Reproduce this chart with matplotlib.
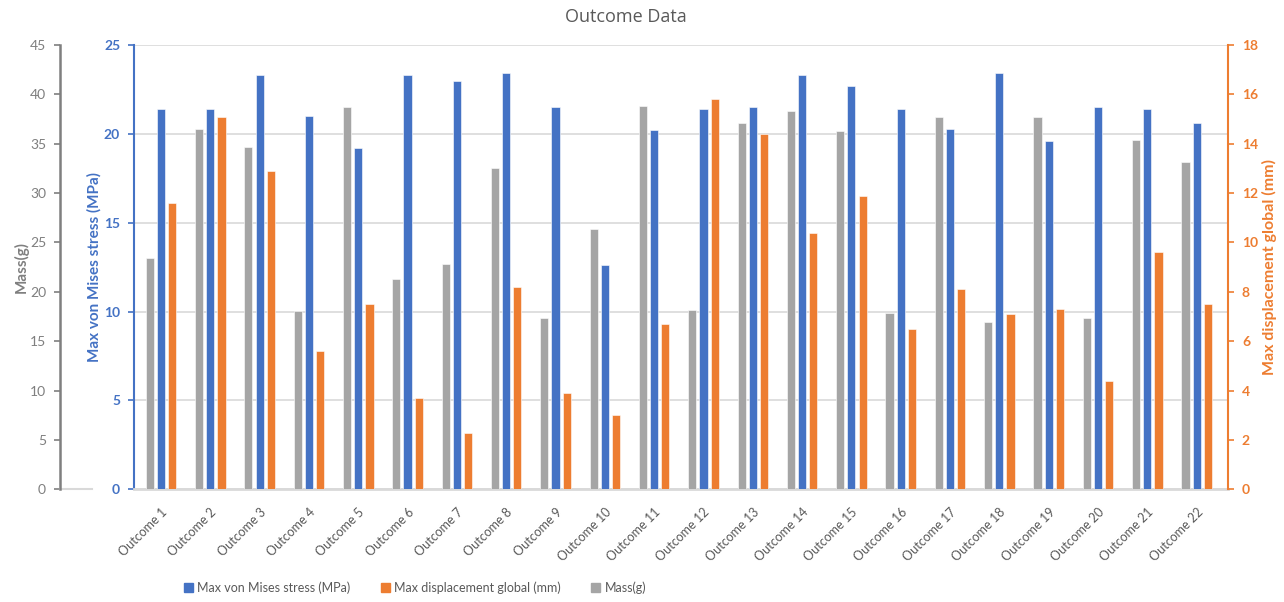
import numpy as np
import matplotlib
matplotlib.use("Agg")
import matplotlib.pyplot as plt
from matplotlib.patches import Patch

# ---- data ----
categories = [f"Outcome {i}" for i in range(1, 23)]
stress_mpa = [21.4, 21.4, 23.3, 21.0, 19.2, 23.3, 23.0, 23.4, 21.5, 12.6, 20.2,
              21.4, 21.5, 23.3, 22.7, 21.4, 20.3, 23.4, 19.6, 21.5, 21.4, 20.6]
displacement_mm = [11.6, 15.1, 12.9, 5.6, 7.5, 3.7, 2.3, 8.2, 3.9, 3.0, 6.7,
                   15.8, 14.4, 10.4, 11.9, 6.5, 8.1, 7.1, 7.3, 4.4, 9.6, 7.5]
mass_g = [23.4, 36.5, 34.7, 18.1, 38.7, 21.3, 22.8, 32.5, 17.4, 26.4, 38.8,
          18.2, 37.1, 38.3, 36.3, 17.9, 37.7, 16.9, 37.7, 17.3, 35.4, 33.2]

stress_ticks = [0, 5, 10, 15, 20, 25]
mass_ticks = list(range(0, 50, 5))
disp_ticks = list(range(0, 20, 2))

BLUE = "#4472C4"
ORANGE = "#ED7D31"
GRAY = "#A5A5A5"
TEXT = "#595959"
AXGRAY = "#7F7F7F"
GRID = "#D9D9D9"

plt.rcParams["font.family"] = ["Lato", "DejaVu Sans"]

W, H = 1284, 602
fig = plt.figure(figsize=(W / 100, H / 100), dpi=100)
left, right, top, bottom = 134, 1228, 45, 489.3
ax = fig.add_axes([left / W, (H - bottom) / H, (right - left) / W, (bottom - top) / H])
ax_mass = ax.twinx()
ax_disp = ax.twinx()

x = np.arange(len(categories))
off, bw = 0.227, 0.165

ax_mass.bar(x - off, mass_g, bw, color=GRAY, edgecolor="white", linewidth=0.4, zorder=3)
ax.bar(x, stress_mpa, bw, color=BLUE, edgecolor="white", linewidth=0.4, zorder=3)
ax_disp.bar(x + off, displacement_mm, bw, color=ORANGE, edgecolor="white", linewidth=0.4, zorder=3)

ax.set_xlim(-0.547, 21.636)
ax.set_ylim(0, 25)
ax_mass.set_ylim(0, 45)
ax_disp.set_ylim(0, 18)

# gridlines on the stress axis
ax.set_yticks(stress_ticks)
ax.yaxis.grid(True, color=GRID, linewidth=1.2)
ax.set_axisbelow(True)

for a in (ax, ax_mass, ax_disp):
    for s in a.spines.values():
        s.set_visible(False)

# stress axis (inner left)
ax.spines["left"].set_visible(True)
ax.spines["left"].set_color(BLUE)
ax.spines["left"].set_linewidth(1.5)
ax.tick_params(axis="y", colors=BLUE, length=4, width=1.2, labelsize=10, pad=6)
for t in ax.get_yticklabels():
    t.set_fontweight("bold")
ax.set_ylabel("Max von Mises stress (MPa)", color=BLUE, fontsize=11,
              fontweight="bold", labelpad=2)

# bottom category axis
ax.spines["bottom"].set_visible(True)
ax.spines["bottom"].set_color(GRID)
ax.spines["bottom"].set_linewidth(2)
ax.set_xticks(x)
ax.set_xticklabels(categories, rotation=45, ha="right", rotation_mode="anchor",
                   fontsize=9, color=TEXT)
ax.tick_params(axis="x", length=0, pad=12)

# mass axis (outer left)
ax_mass.yaxis.set_label_position("left")
ax_mass.yaxis.tick_left()
ax_mass.spines["left"].set_visible(True)
ax_mass.spines["left"].set_position(("axes", (60 - left) / (right - left)))
ax_mass.spines["left"].set_color(AXGRAY)
ax_mass.spines["left"].set_linewidth(1.8)
ax_mass.set_yticks(mass_ticks)
ax_mass.tick_params(axis="y", colors=AXGRAY, length=4, width=1.2, labelsize=10, pad=6)
ax_mass.set_ylabel("Mass(g)", color=AXGRAY, fontsize=11, fontweight="bold", labelpad=1)
ax_mass.plot([(60 - left) / (right - left), (92 - left) / (right - left)], [0, 0],
             transform=ax_mass.transAxes, color=GRID, linewidth=1.5, clip_on=False)

# displacement axis (right)
ax_disp.spines["right"].set_visible(True)
ax_disp.spines["right"].set_color(ORANGE)
ax_disp.spines["right"].set_linewidth(1.5)
ax_disp.set_yticks(disp_ticks)
ax_disp.tick_params(axis="y", colors=ORANGE, length=4, width=1.2, labelsize=10, pad=6)
for t in ax_disp.get_yticklabels():
    t.set_fontweight("bold")
ax_disp.set_ylabel("Max displacement global (mm)", color=ORANGE, fontsize=11.5,
                   fontweight="bold", labelpad=3)

fig.text(626 / W, 1 - 17 / H, "Outcome Data", ha="center", va="center",
         fontsize=13, color=TEXT, family=["Open Sans", "DejaVu Sans"])

handles = [Patch(color=BLUE), Patch(color=ORANGE), Patch(color=GRAY)]
labels = ["Max von Mises stress (MPa)", "Max displacement global (mm)", "Mass(g)"]
leg = fig.legend(handles, labels, loc="center", bbox_to_anchor=(415 / W, 1 - 588 / H),
                 ncol=3, frameon=False, fontsize=9, handlelength=0.75,
                 handleheight=0.75, handletextpad=0.35, columnspacing=2.4)
for t in leg.get_texts():
    t.set_color(TEXT)

fig.savefig("out.png", dpi=100, facecolor="white")
